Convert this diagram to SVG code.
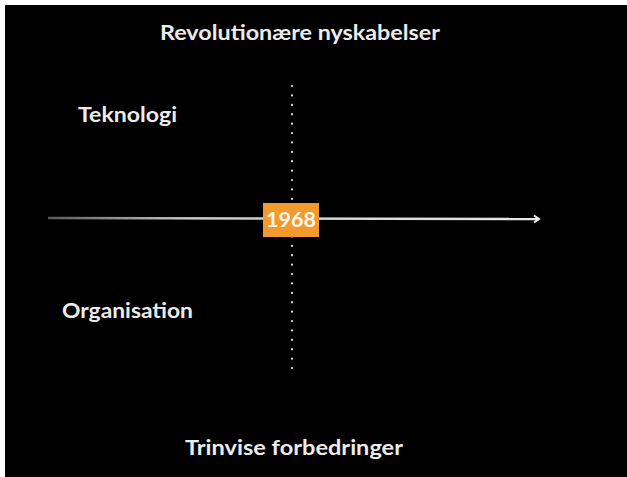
<svg xmlns="http://www.w3.org/2000/svg" width="627" height="477" viewBox="0 0 627 477">
<defs>
<linearGradient id="fade" x1="48" y1="0" x2="540" y2="0" gradientUnits="userSpaceOnUse">
<stop offset="0" stop-color="#ffffff" stop-opacity="0.35"/>
<stop offset="0.3" stop-color="#e0e0e0" stop-opacity="0.9"/>
<stop offset="1" stop-color="#e8e8e8" stop-opacity="1"/>
</linearGradient>
<marker id="arr" markerWidth="10" markerHeight="10" refX="7" refY="5" orient="auto" markerUnits="userSpaceOnUse">
<path d="M2,1.5 L7,5 L2,8.5" fill="none" stroke="#eeeeee" stroke-width="2"/>
</marker>
</defs>
<style>
.lbl{font-family:"Lato","Open Sans","Liberation Sans",sans-serif;font-weight:bold;fill:#ececec;}
</style>
<rect x="0" y="0" width="627" height="477" fill="#ffffff"/>
<rect x="5" y="5" width="622" height="472" fill="#000000"/>
<g id="connectors">
<line x1="292" y1="86" x2="292" y2="372" stroke="#dddddd" stroke-width="2.2" stroke-linecap="round" stroke-dasharray="0.1 9.3"/>
<line x1="48" y1="218" x2="539" y2="219" stroke="url(#fade)" stroke-width="2.5" marker-end="url(#arr)"/>
</g>
<g id="title-top"><text class="lbl" x="300" y="40" font-size="20" text-anchor="middle" textLength="280" lengthAdjust="spacingAndGlyphs">Revolutionære nyskabelser</text></g>
<g id="teknologi"><text class="lbl" x="78" y="122" font-size="20" textLength="99" lengthAdjust="spacingAndGlyphs">Teknologi</text></g>
<g id="organisation"><text class="lbl" x="62" y="318" font-size="20" textLength="131" lengthAdjust="spacingAndGlyphs">Organisation</text></g>
<g id="title-bottom"><text class="lbl" x="294" y="455" font-size="20" text-anchor="middle" textLength="218" lengthAdjust="spacingAndGlyphs">Trinvise forbedringer</text></g>
<g id="year">
<rect x="263" y="203" width="56" height="34" fill="#f39a2e"/>
<text class="lbl" x="291" y="227" font-size="20" text-anchor="middle" fill="#ffffff" style="fill:#fff8ee" textLength="50" lengthAdjust="spacingAndGlyphs">1968</text>
</g>
</svg>
